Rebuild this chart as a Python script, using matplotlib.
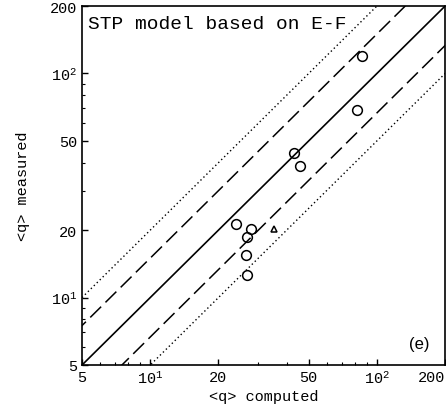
import matplotlib
matplotlib.use('Agg')
import matplotlib.pyplot as plt
import numpy as np
from matplotlib.ticker import FixedLocator, NullFormatter, LogLocator

plt.rcParams['mathtext.fontset'] = 'custom'
plt.rcParams['mathtext.rm'] = 'Liberation Mono'
plt.rcParams['mathtext.it'] = 'Liberation Mono'

# measured vs computed <q>
q_computed = [86, 82, 43, 46, 24, 27.8, 26.7, 26.4, 26.7]
q_measured = [120, 69, 44, 38.7, 21.3, 20.2, 18.6, 15.5, 12.6]
tri_computed = [35]
tri_measured = [20.2]

tick_vals = [5, 10, 20, 50, 100, 200]
tick_labels = ['5', r'$\mathregular{10^{1}}$', '20', '50', r'$\mathregular{10^{2}}$', '200']
band_factors = [1.5, 2.0]

mono = 'Liberation Mono'

fig = plt.figure(figsize=(4.46, 4.14), dpi=100)
ax = fig.add_axes([0.184, 0.116, 0.814, 0.867])
ax.set_xscale('log')
ax.set_yscale('log')
ax.set_xlim(5, 200)
ax.set_ylim(5, 200)

xx = np.array([1, 1000])
ax.plot(xx, xx, color='black', lw=1.2)
ax.plot(xx, xx * band_factors[0], color='black', lw=1.1, dashes=(10, 4))
ax.plot(xx, xx / band_factors[0], color='black', lw=1.1, dashes=(10, 4))
ax.plot(xx, xx * band_factors[1], color='black', lw=1.0, dashes=(1, 2))
ax.plot(xx, xx / band_factors[1], color='black', lw=1.0, dashes=(1, 2))

ax.plot(q_computed, q_measured, 'o', ms=7, mfc='none', mec='black', mew=1.1)
ax.plot(tri_computed, tri_measured, '^', ms=5, mfc='none', mec='black', mew=1.1)

for axis in (ax.xaxis, ax.yaxis):
    axis.set_major_locator(FixedLocator(tick_vals))
    axis.set_minor_locator(LogLocator(base=10, subs=np.arange(2, 10)))
    axis.set_minor_formatter(NullFormatter())
ax.set_xticklabels(tick_labels, fontfamily=mono, fontsize=11)
ax.set_yticklabels(tick_labels, fontfamily=mono, fontsize=11)
ax.get_xticklabels()[-1].set_horizontalalignment('right')
ax.tick_params(which='major', direction='in', length=4, width=1)
ax.tick_params(which='minor', direction='in', length=2, width=0.8)

for s in ax.spines.values():
    s.set_linewidth(1.2)

ax.set_xlabel('<q> computed', fontfamily=mono, fontsize=11, labelpad=2)
ax.set_ylabel('<q> measured', fontfamily=mono, fontsize=11, labelpad=14)

ax.text(0.015, 0.975, 'STP model based on E-F', transform=ax.transAxes,
        fontfamily=mono, fontsize=14, ha='left', va='top')
ax.text(0.93, 0.06, '(e)', transform=ax.transAxes,
        fontfamily='Liberation Sans', fontsize=12, ha='center', va='center')

plt.savefig('out.png', dpi=100)
plt.close()
